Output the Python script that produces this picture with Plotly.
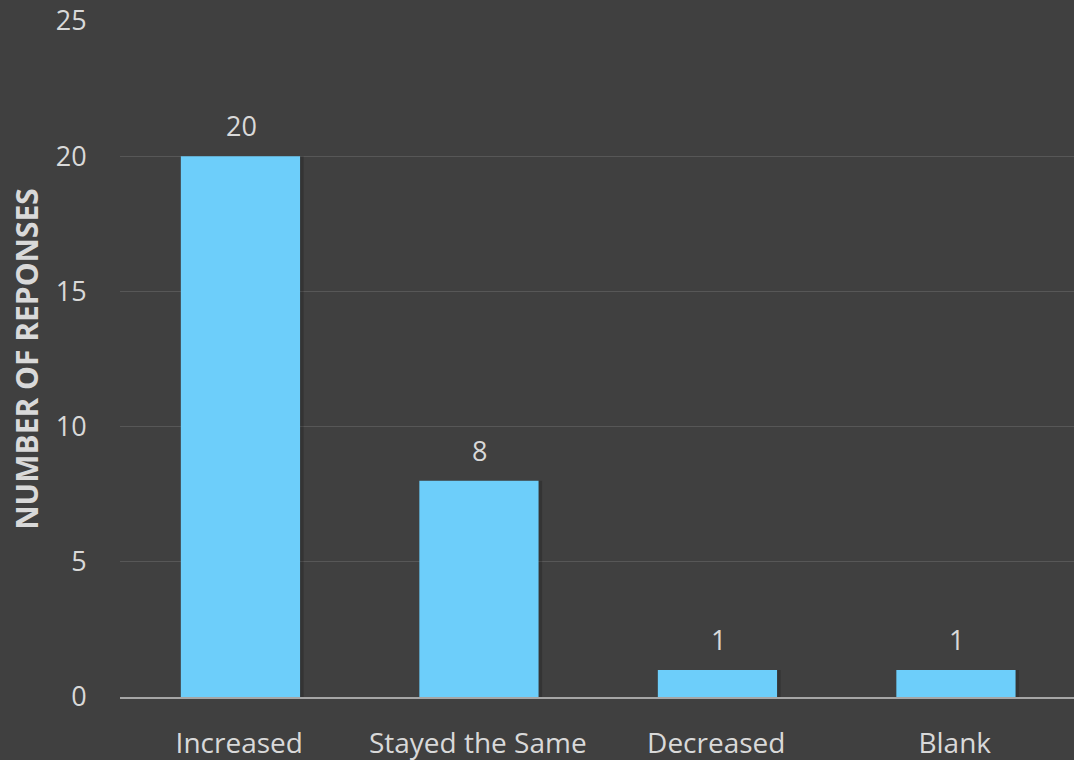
import plotly.graph_objects as go

categories = ["Increased", "Stayed the Same", "Decreased", "Blank"]
responses = [20, 8, 1, 1]
y_ticks = [0, 5, 10, 15, 20, 25]

BG = "#404040"
TEXT = "#d9d9d9"
FONT = "Open Sans, Noto Sans, sans-serif"

fig = go.Figure()

# soft drop shadow behind each bar
fig.add_trace(go.Bar(
    x=categories, y=responses, width=0.515, offset=-0.245,
    marker=dict(color="rgba(0,0,0,0.18)", line=dict(width=0)),
    hoverinfo="skip", showlegend=False,
))

fig.add_trace(go.Bar(
    x=categories, y=responses, width=0.5, offset=-0.245,
    marker=dict(color="#6dcefa", line=dict(width=0)),
    showlegend=False,
))

for cat, val in zip(categories, responses):
    fig.add_annotation(
        x=cat, y=val, text=str(val), showarrow=False,
        yanchor="bottom", yshift=10, xshift=2,
        font=dict(family=FONT, size=27, color=TEXT),
    )

fig.update_layout(
    width=1074, height=760,
    paper_bgcolor=BG, plot_bgcolor=BG,
    margin=dict(l=120, r=0, t=21, b=63),
    barmode="overlay",
    font=dict(family=FONT, color=TEXT),
    xaxis=dict(
        showgrid=False, zeroline=False,
        showline=True, linecolor="#a6a6a6", linewidth=2,
        ticks="outside", ticklen=20, tickcolor="rgba(0,0,0,0)",
        tickfont=dict(family=FONT, size=28, color=TEXT),
    ),
    yaxis=dict(
        range=[0, 25], tickvals=y_ticks,
        showgrid=True, gridcolor="#575757", gridwidth=1,
        zeroline=False, showline=False,
        ticks="outside", ticklen=27, tickcolor="rgba(0,0,0,0)",
        tickfont=dict(family=FONT, size=27, color=TEXT),
        title=dict(text="<b>NUMBER OF REPONSES</b>",
                   font=dict(family=FONT, size=30, color=TEXT), standoff=8),
    ),
)

fig.write_html("out.html")
